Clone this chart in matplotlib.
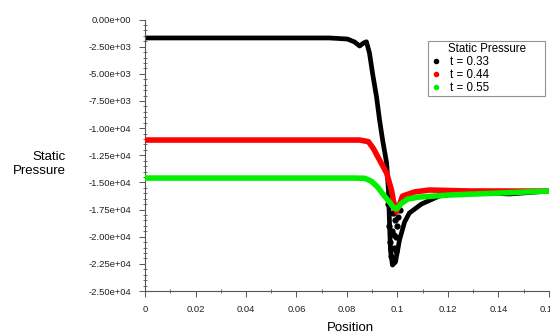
import numpy as np
import matplotlib
matplotlib.use("Agg")
import matplotlib.pyplot as plt
from matplotlib.lines import Line2D
from matplotlib.ticker import MultipleLocator, FuncFormatter

plt.rcParams['font.family'] = ['Liberation Sans', 'DejaVu Sans']

# t = 0.33
x_033 = [0.0, 0.02, 0.04, 0.06, 0.0731, 0.0802, 0.0830, 0.0850, 0.0866, 0.0877,
         0.0889, 0.0901, 0.0917, 0.0929, 0.0941, 0.0957, 0.0964, 0.0968, 0.0972,
         0.0980, 0.0992, 0.1008, 0.1028, 0.1047, 0.1095, 0.1166, 0.1285, 0.1443,
         0.1597]
p_033 = [-1700, -1700, -1700, -1700, -1700, -1800, -2070, -2440, -2160, -2050,
         -3090, -4930, -7140, -9260, -11100, -13220, -15700, -18470, -21230,
         -22610, -22330, -20300, -18650, -17820, -16990, -16250, -15890, -16070,
         -15800]
# scattered points of t = 0.33 inside the shock
x_033_cloud = [0.0962, 0.0966, 0.0970, 0.0974, 0.0978, 0.0982, 0.0986, 0.0990,
               0.0994, 0.0998, 0.1002, 0.0976, 0.0984, 0.0992, 0.1010, 0.0968,
               0.0988, 0.0996]
p_033_cloud = [-17000, -19000, -20500, -21800, -19500, -17800, -21000, -18500,
               -20000, -19000, -18200, -16800, -22000, -17300, -17500, -16600,
               -19800, -21300]

# t = 0.44
x_044 = [0.0, 0.02, 0.04, 0.06, 0.0774, 0.0850, 0.0885, 0.0905, 0.0929, 0.0957,
         0.0976, 0.0988, 0.0996, 0.1008, 0.1020, 0.1067, 0.1126, 0.1285, 0.1597]
p_044 = [-11100, -11100, -11100, -11100, -11100, -11100, -11250, -11900, -12940,
         -14140, -15700, -17200, -17700, -17000, -16260, -15880, -15700, -15790,
         -15800]

# t = 0.55
x_055 = [0.0, 0.02, 0.04, 0.06, 0.0830, 0.0870, 0.0897, 0.0921, 0.0945, 0.0968,
         0.0984, 0.0996, 0.1012, 0.1040, 0.1087, 0.1206, 0.1403, 0.1597]
p_055 = [-14600, -14600, -14600, -14600, -14600, -14620, -14900, -15420, -16160,
         -16810, -17300, -17450, -17000, -16530, -16350, -16160, -15980, -15800]

labels = ["t = 0.33", "t = 0.44", "t = 0.55"]
colors = ["black", "#ff0000", "#00f000"]

fig = plt.figure(figsize=(5.5, 3.36), dpi=100)
ax = fig.add_axes([145 / 550, 1 - 291 / 336, 404 / 550, (291 - 19.5) / 336])

ax.plot(x_033, p_033, '-', color=colors[0], lw=3.4, solid_capstyle='round', zorder=2)
ax.plot(x_033_cloud, p_033_cloud, 'o', color=colors[0], ms=3.5, zorder=2)
ax.plot(x_044, p_044, '-', color=colors[1], lw=4.0, solid_capstyle='round', zorder=3)
ax.plot(x_055, p_055, '-', color=colors[2], lw=4.0, solid_capstyle='round', zorder=4)

ax.set_xlim(0, 0.16)
ax.set_ylim(-25000, 0)
for s in ['top', 'right']:
    ax.spines[s].set_visible(False)
for s in ['left', 'bottom']:
    ax.spines[s].set_color('#555555')
    ax.spines[s].set_linewidth(0.8)

ax.xaxis.set_major_locator(MultipleLocator(0.02))
ax.xaxis.set_minor_locator(MultipleLocator(0.01))
ax.yaxis.set_major_locator(MultipleLocator(2500))
ax.yaxis.set_minor_locator(MultipleLocator(500))

ax.xaxis.set_major_formatter(FuncFormatter(lambda v, p: "0" if abs(v) < 1e-9 else ("%.2f" % v).rstrip('0')))
ax.yaxis.set_major_formatter(FuncFormatter(lambda v, p: "%.2e" % v))

ax.tick_params(which='major', direction='out', length=4, width=0.7, color='#555555',
               labelsize=6.8, labelcolor='#222222', pad=6)
ax.tick_params(which='minor', direction='inout', length=3, width=0.6, color='#555555')

fig.text(66 / 550, 1 - 164 / 336, "Static\nPressure", ha='right', va='center',
         fontsize=9.5, linespacing=1.15, multialignment='right')
fig.text(350 / 550, 1 - 328 / 336, "Position", ha='center', va='center', fontsize=9.5)

handles = [Line2D([], [], ls='none', marker='o', ms=3, color=c) for c in colors]
leg = ax.legend(handles, labels, title="Static Pressure", loc='upper left',
                bbox_to_anchor=(428 / 550, 1 - 41 / 336, 117 / 550, 0.0),
                bbox_transform=fig.transFigure, mode='expand',
                fontsize=8.3, title_fontsize=8.3, frameon=True, fancybox=False,
                labelspacing=0.08, handlelength=1.0, handletextpad=0.7,
                borderpad=0.2, borderaxespad=0)
leg.get_frame().set_edgecolor('#777777')
leg.get_frame().set_linewidth(0.8)

fig.savefig("out.png", dpi=100)
